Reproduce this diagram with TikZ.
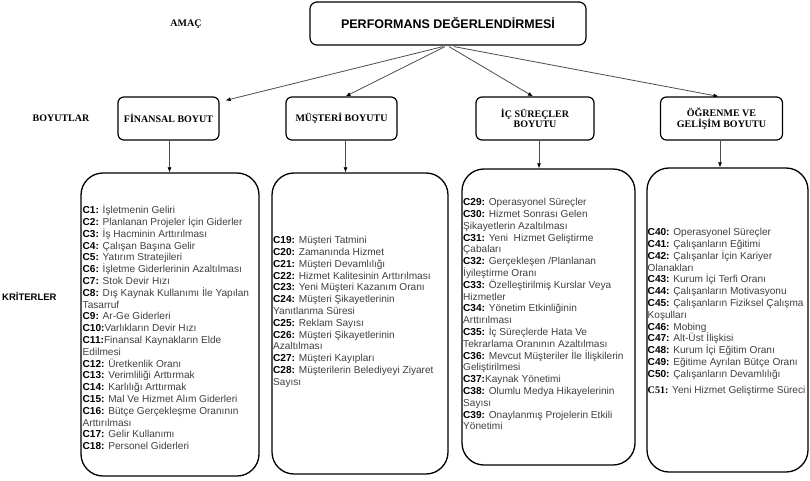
\documentclass[tikz,border=0pt]{standalone}
\usepackage{fontspec}
\setmainfont{Liberation Sans}
\newfontfamily\serifb{Liberation Serif}
\usetikzlibrary{arrows.meta,calc}
\newcommand{\crit}[1]{\textbf{\color{black}#1}}
\tikzset{
 topbox/.style={draw, line width=1.2pt, rounded corners=7pt, minimum width=276pt, minimum height=43pt, font=\fontsize{12.5}{14}\selectfont\bfseries, inner sep=0pt},
 dimbox/.style={draw, line width=1.2pt, rounded corners=6pt, minimum height=43pt, font=\serifb\bfseries\fontsize{10}{10.5}\selectfont, align=center, inner sep=0pt},
 critbox/.style={draw, line width=1.3pt, rounded corners=22pt, inner sep=0pt},
 crittext/.style={anchor=north west, inner sep=0pt, align=left, font=\fontsize{10.1}{11.8}\selectfont, text=black!75},
 arr/.style={draw=black!70, line width=0.8pt, -{Latex[length=5pt,width=4pt,black]}},
 lbl/.style={font=\serifb\bfseries\fontsize{10}{12}\selectfont, inner sep=0pt},
}
\begin{document}
\begin{tikzpicture}[x=1pt,y=-1pt]
\useasboundingbox[fill=white] (0,0) rectangle (810,481);

\node[lbl] (amac) at (186,24) {AMAÇ};
\node[lbl] (boy) at (61,118) {BOYUTLAR};
\node[font=\fontsize{9.5}{11}\selectfont\bfseries, anchor=west, inner sep=0pt] (kri) at (2,296) {KRİTERLER};

\node[topbox] (top) at (448,23.5) {PERFORMANS DEĞERLENDİRMESİ};

\node[dimbox, minimum width=101pt] (fin) at (168.5,118.5) {FİNANSAL BOYUT};
\node[dimbox, minimum width=111pt] (mus) at (341.5,118.5) {MÜŞTERİ BOYUTU};
\node[dimbox, minimum width=118pt] (ic) at (535,118.5) {İÇ SÜREÇLER\\BOYUTU};
\node[dimbox, minimum width=122pt] (og) at (721.5,118.5) {ÖĞRENME VE\\GELİŞİM BOYUTU};

\node[critbox, minimum width=178pt, minimum height=303pt] (finK) at (170,324.5) {};
\node[critbox, minimum width=176pt, minimum height=301pt] (musK) at (360,323.5) {};
\node[critbox, minimum width=173pt, minimum height=296pt] (icK) at (548.5,317) {};
\node[critbox, minimum width=161pt, minimum height=304pt] (ogK) at (727.5,320) {};

\node[crittext] (finT) at (82.5,203.5) {\rule{0pt}{10pt}\crit{C1:} İşletmenin Geliri\\
\crit{C2:} Planlanan Projeler İçin Giderler\\
\crit{C3:} İş Hacminin Arttırılması\\
\crit{C4:} Çalışan Başına Gelir\\
\crit{C5:} Yatırım Stratejileri\\
\crit{C6:} İşletme Giderlerinin Azaltılması\\
\crit{C7:} Stok Devir Hızı\\
\crit{C8:} Dış Kaynak Kullanımı İle Yapılan\\
Tasarruf\\
\crit{C9:} Ar-Ge Giderleri\\
\crit{C10:}Varlıkların Devir Hızı\\
\crit{C11:}Finansal Kaynakların Elde\\
Edilmesi\\
\crit{C12:} Üretkenlik Oranı\\
\crit{C13:} Verimliliği Arttırmak\\
\crit{C14:} Karlılığı Arttırmak\\
\crit{C15:} Mal Ve Hizmet Alım Giderleri\\
\crit{C16:} Bütçe Gerçekleşme Oranının\\
Arttırılması\\
\crit{C17:} Gelir Kullanımı\\
\crit{C18:} Personel Giderleri};

\node[crittext] (musT) at (273,233.5) {\rule{0pt}{10pt}\crit{C19:} Müşteri Tatmini\\
\crit{C20:} Zamanında Hizmet\\
\crit{C21:} Müşteri Devamlılığı\\
\crit{C22:} Hizmet Kalitesinin Arttırılması\\
\crit{C23:} Yeni Müşteri Kazanım Oranı\\
\crit{C24:} Müşteri Şikayetlerinin\\
Yanıtlanma Süresi\\
\crit{C25:} Reklam Sayısı\\
\crit{C26:} Müşteri Şikayetlerinin\\
Azaltılması\\
\crit{C27:} Müşteri Kayıpları\\
\crit{C28:} Müşterilerin Belediyeyi Ziyaret\\
Sayısı};

\node[crittext] (icT) at (463,195.5) {\rule{0pt}{10pt}\crit{C29:} Operasyonel Süreçler\\
\crit{C30:} Hizmet Sonrası Gelen\\
Şikayetlerin Azaltılması\\
\crit{C31:} Yeni\ \ Hizmet Geliştirme\\
Çabaları\\
\crit{C32:} Gerçekleşen /Planlanan\\
İyileştirme Oranı\\
\crit{C33:} Özelleştirilmiş Kurslar Veya\\
Hizmetler\\
\crit{C34:} Yönetim Etkinliğinin\\
Arttırılması\\
\crit{C35:} İç Süreçlerde Hata Ve\\
Tekrarlama Oranının Azaltılması\\
\crit{C36:} Mevcut Müşteriler İle İlişkilerin\\
Geliştirilmesi\\
\crit{C37:}Kaynak Yönetimi\\
\crit{C38:} Olumlu Medya Hikayelerinin\\
Sayısı\\
\crit{C39:} Onaylanmış Projelerin Etkili\\
Yönetimi};

\node[crittext] (ogT) at (647.5,225.5) {\rule{0pt}{10pt}\crit{C40:} Operasyonel Süreçler\\
\crit{C41:} Çalışanların Eğitimi\\
\crit{C42:} Çalışanlar İçin Kariyer\\
Olanakları\\
\crit{C43:} Kurum İçi Terfi Oranı\\
\crit{C44:} Çalışanların Motivasyonu\\
\crit{C45:} Çalışanların Fiziksel Çalışma\\
Koşulları\\
\crit{C46:} Mobing\\
\crit{C47:} Alt-Üst İlişkisi\\
\crit{C48:} Kurum İçi Eğitim Oranı\\
\crit{C49:} Eğitime Ayrılan Bütçe Oranı\\
\crit{C50:} Çalışanların Devamlılığı\\[4pt]
\crit{\serifb C51:} Yeni Hizmet Geliştirme Süreci};

\draw[arr] ([xshift=-5pt,yshift=-1pt]top.south) -- ([xshift=6pt,yshift=-4pt]fin.north east);
\draw[arr] ([xshift=-3pt,yshift=-1pt]top.south) -- ([xshift=4pt]mus.north);
\draw[arr] ([xshift=1pt,yshift=-1pt]top.south) -- ([xshift=-2pt]ic.north);
\draw[arr] ([xshift=6pt,yshift=-1pt]top.south) -- ([xshift=-3pt]og.north);

\draw[arr] ([xshift=1pt]fin.south) -- ([xshift=1pt]fin.south |- finK.north);
\draw[arr] ([xshift=4pt]mus.south) -- ([xshift=4pt]mus.south |- musK.north);
\draw[arr] ([xshift=4pt]ic.south) -- ([xshift=4pt]ic.south |- icK.north);
\draw[arr] ([xshift=-1.5pt]og.south) -- ([xshift=-1.5pt]og.south |- ogK.north);
\end{tikzpicture}
\end{document}
